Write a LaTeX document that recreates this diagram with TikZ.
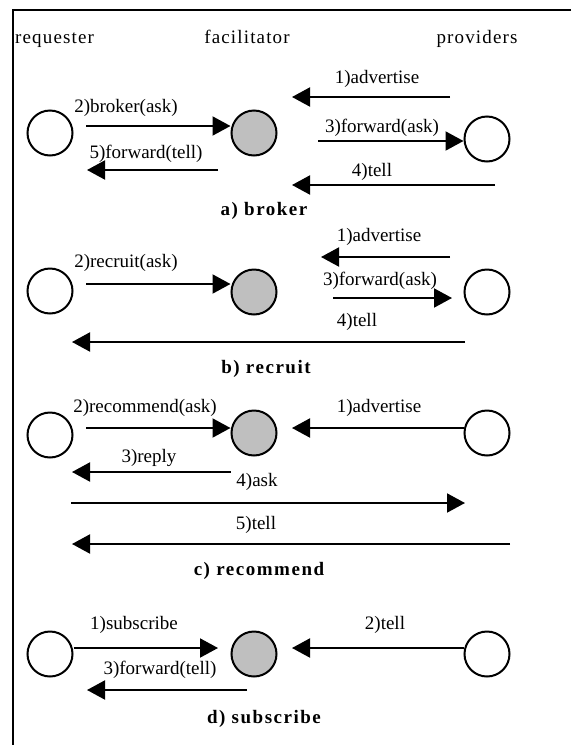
\documentclass[tikz,border=0pt]{standalone}
\usepackage{fontspec}
\setmainfont{Liberation Serif}
\usetikzlibrary{arrows.meta}
\begin{document}
\begin{tikzpicture}[x=1pt,y=-1pt,
  agent/.style={circle,draw,line width=2pt,minimum size=45pt,inner sep=0pt},
  fac/.style={agent,fill=black!25},
  msg/.style={line width=2pt,-{Triangle[length=18pt,width=19pt]}},
  lbl/.style={anchor=base,inner sep=0pt,font=\fontsize{19}{22}\selectfont},
  hdr/.style={anchor=base,inner sep=0pt,font=\fontsize{19}{22}\selectfont\addfontfeatures{LetterSpace=6}},
  ttl/.style={anchor=base,inner sep=0pt,font=\fontsize{19}{22}\selectfont\bfseries\addfontfeatures{LetterSpace=8}}]
\useasboundingbox (0,0) rectangle (571,745);
% open frame: top and left edges only
\draw[line width=2pt] (571,10) -- (13,10) -- (13,745);

% column headings
\node[hdr,anchor=base west] (hreq) at (15,43) {requester};
\node[hdr] (hfac) at (247,43) {facilitator};
\node[hdr] (hprov) at (477,43) {providers};

% ---------- a) broker ----------
\node[agent] (aR) at (50,133) {};
\node[fac]   (aF) at (254,133) {};
\node[agent] (aP) at (487,139) {};
\coordinate (a1s) at (450,97);  \coordinate (a1e) at (292,97);
\coordinate (a2s) at (86,126);
\coordinate (a3s) at (318,141);
\coordinate (a5s) at (218,170); \coordinate (a5e) at (87,170);
\coordinate (a4s) at (495,185); \coordinate (a4e) at (292,185);
\draw[msg] (a1s) -- (a1e);
\draw[msg] (a2s) -- (aF.west |- a2s);
\draw[msg] (a3s) -- (aP.west |- a3s);
\draw[msg] (a5s) -- (a5e);
\draw[msg] (a4s) -- (a4e);
\node[lbl] (la1) at (377,83) {1)advertise};
\node[lbl] (la2) at (126,112) {2)broker(ask)};
\node[lbl] (la3) at (382,132) {3)forward(ask)};
\node[lbl] (la5) at (146,158) {5)forward(tell)};
\node[lbl] (la4) at (372,176) {4)tell};
\node[ttl] (ta) at (264,215) {a) broker};

% ---------- b) recruit ----------
\node[agent] (bR) at (50,291) {};
\node[fac]   (bF) at (254,292) {};
\node[agent] (bP) at (487,292) {};
\coordinate (b1s) at (450,257); \coordinate (b1e) at (321,257);
\coordinate (b2s) at (86,284);
\coordinate (b3s) at (333,298); \coordinate (b3e) at (452,298);
\coordinate (b4s) at (465,342); \coordinate (b4e) at (72,342);
\draw[msg] (b1s) -- (b1e);
\draw[msg] (b2s) -- (bF.west |- b2s);
\draw[msg] (b3s) -- (b3e);
\draw[msg] (b4s) -- (b4e);
\node[lbl] (lb1) at (379,241) {1)advertise};
\node[lbl] (lb2) at (126,267) {2)recruit(ask)};
\node[lbl] (lb3) at (380,285) {3)forward(ask)};
\node[lbl] (lb4) at (357,326) {4)tell};
\node[ttl] (tb) at (266,373) {b) recruit};

% ---------- c) recommend ----------
\node[agent] (cR) at (50,435) {};
\node[fac]   (cF) at (254,433) {};
\node[agent] (cP) at (487,433) {};
\coordinate (c2s) at (86,428);
\coordinate (c1e) at (292,428);
\coordinate (c3e) at (72,472);
\coordinate (c4s) at (71,503);  \coordinate (c4e) at (465,503);
\coordinate (c5s) at (510,544); \coordinate (c5e) at (72,544);
\draw[msg] (c2s) -- (cF.west |- c2s);
\draw[msg] (cP.west |- c1e) -- (c1e);
\draw[msg] (cF.west |- c3e) -- (c3e);
\draw[msg] (c4s) -- (c4e);
\draw[msg] (c5s) -- (c5e);
\node[lbl] (lc2) at (145,412) {2)recommend(ask)};
\node[lbl] (lc1) at (379,412) {1)advertise};
\node[lbl] (lc3) at (149,462) {3)reply};
\node[lbl] (lc4) at (257,486) {4)ask};
\node[lbl] (lc5) at (256,529) {5)tell};
\node[ttl] (tc) at (259,575) {c) recommend};

% ---------- d) subscribe ----------
\node[agent] (dR) at (50,654) {};
\node[fac]   (dF) at (254,654) {};
\node[agent] (dP) at (487,654) {};
\coordinate (d1e) at (218,648);
\coordinate (d2e) at (292,648);
\coordinate (d3s) at (247,690); \coordinate (d3e) at (87,690);
\draw[msg] (dR.east |- d1e) -- (d1e);
\draw[msg] (dP.west |- d2e) -- (d2e);
\draw[msg] (d3s) -- (d3e);
\node[lbl] (ld1) at (134,629) {1)subscribe};
\node[lbl] (ld2) at (385,629) {2)tell};
\node[lbl] (ld3) at (160,674) {3)forward(tell)};
\node[ttl] (td) at (264,723) {d) subscribe};
\end{tikzpicture}
\end{document}
